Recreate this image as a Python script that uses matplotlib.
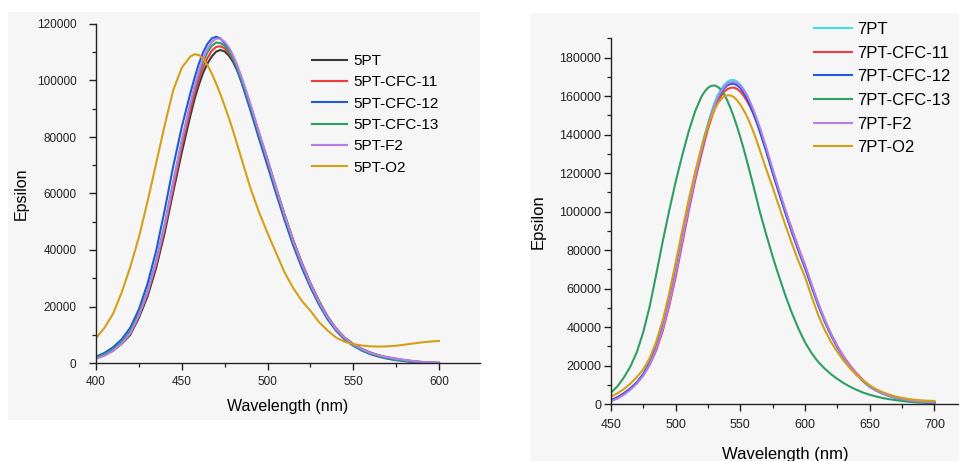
import numpy as np
import matplotlib as mpl
mpl.use("Agg")
import matplotlib.pyplot as plt
import matplotlib.ticker as ticker
from matplotlib.patches import Rectangle

plt.rcParams['font.family'] = ['Liberation Sans', 'DejaVu Sans']

# ---- left panel: 5PT series (5 nm steps, 2.5 nm around the peak)
wl5 = [400, 405, 410, 415, 420, 425, 430, 435, 440, 445, 450,
       455, 457.5, 460, 462.5, 465, 467.5, 470, 472.5, 475, 477.5, 480, 482.5, 485, 487.5, 490,
       495, 500, 505, 510, 515, 520, 525, 530, 535, 540, 545, 550,
       555, 560, 565, 570, 575, 580, 585, 590, 595, 600]
pt5 = [1700, 2800, 4400, 6800, 10000, 16000, 23500, 33500, 46000, 60500, 74500,
       87500, 93500, 98500, 102800, 106000, 108500, 110200, 110800, 110300, 108800, 106500, 103300, 99500, 95500, 91000,
       81500, 72000, 62000, 52500, 43500, 35500, 28300, 22000, 16500, 12200, 9000, 6700,
       5000, 3700, 2700, 2000, 1500, 1000, 650, 350, 150, 50]
pt5_cfc11 = [1800, 2900, 4600, 7100, 10600, 16800, 24500, 34800, 47500, 62000, 76500,
             89500, 95300, 100500, 104800, 108000, 110500, 111900, 112100, 111400, 109700, 107300, 104000, 100000, 95700, 91000,
             81300, 71600, 61600, 52000, 43000, 35000, 27900, 21600, 16200, 12000, 8800, 6500,
             4800, 3500, 2500, 1800, 1300, 850, 500, 250, 100, 0]
pt5_cfc12 = [2200, 3600, 5600, 8400, 12500, 19000, 28000, 39500, 54000, 69500, 83500,
             95500, 101000, 106000, 110000, 113000, 114900, 115500, 114900, 113200, 110700, 107500, 103500, 99000, 94300, 89500,
             79500, 69800, 60000, 50500, 41600, 33700, 26800, 20700, 15500, 11400, 8300, 6100,
             4400, 3100, 2200, 1500, 1000, 650, 350, 150, 50, 0]
pt5_cfc13 = [1900, 3100, 4900, 7500, 11200, 17500, 25500, 36000, 49000, 64000, 78500,
             91500, 97300, 102500, 106800, 110000, 112300, 113400, 113300, 112300, 110400, 107700, 104200, 100000, 95600, 91000,
             81000, 71300, 61300, 51700, 42700, 34700, 27600, 21300, 16000, 11800, 8600, 6300,
             4600, 3300, 2400, 1700, 1200, 800, 450, 200, 80, 0]
pt5_f2 = [1500, 2600, 4300, 6900, 10500, 16800, 25000, 35500, 48500, 63500, 78500,
          92000, 98000, 103500, 107800, 111200, 113600, 114800, 114800, 113700, 111700, 108800, 105200, 101000, 96500, 91800,
          81800, 72000, 62000, 52300, 43300, 35200, 28000, 21700, 16300, 12000, 8900, 6600,
          4900, 3600, 2700, 2000, 1500, 1100, 700, 400, 200, 100]
pt5_o2 = [8800, 12500, 17500, 25000, 34000, 44500, 57000, 70500, 84000, 96500, 104500,
          108500, 109300, 109000, 107700, 105500, 102500, 99000, 95200, 91000, 86700, 82000, 77000, 72000, 67000, 62000,
          53500, 46000, 39000, 32000, 26500, 22000, 18500, 14500, 11500, 9000, 7500, 6700,
          6200, 5900, 5800, 5900, 6100, 6500, 6900, 7300, 7600, 7800]

# ---- right panel: 7PT series (5 nm steps, 2.5 nm around the peak)
wl7 = [450, 455, 460, 465, 470, 475, 480, 485, 490, 495, 500, 505, 510, 515,
       520, 522.5, 525, 527.5, 530, 532.5, 535, 537.5, 540, 542.5, 545, 547.5, 550,
       552.5, 555, 557.5, 560, 562.5, 565,
       570, 575, 580, 585, 590, 595, 600, 605, 610, 615, 620, 625, 630, 635, 640, 645,
       650, 655, 660, 665, 670, 675, 680, 685, 690, 695, 700]
pt7 = [1900, 3300, 5400, 8000, 11200, 15500, 21500, 29500, 40000, 53500, 69000, 86000, 103000, 119000,
       133500, 140000, 146000, 151500, 156500, 160500, 163500, 165800, 167500, 168300, 168400, 167500, 166000,
       163500, 160500, 156800, 152500, 148000, 143000,
       132500, 121000, 110000, 99500, 89500, 80000, 71000, 61500, 52000, 43500, 36000, 29500, 24000, 19300, 15300, 11800,
       9000, 7000, 5400, 4200, 3200, 2500, 1900, 1500, 1200, 1000, 800]
pt7_cfc11 = [2000, 3500, 5500, 8000, 11000, 15000, 20500, 28000, 38000, 51000, 66000, 83000, 100000, 116000,
             130000, 136800, 143000, 148300, 153000, 157000, 160000, 162200, 163600, 164300, 164400, 163700, 162300,
             160200, 157500, 154500, 151000, 147000, 142500,
             132000, 120500, 110000, 100000, 90500, 81000, 72000, 62000, 52500, 44000, 36500, 30000, 24500, 19800, 15800, 12300,
             9500, 7300, 5700, 4500, 3500, 2800, 2200, 1800, 1500, 1300, 1100]
pt7_cfc12 = [2000, 3400, 5500, 8100, 11300, 15600, 21600, 29600, 40000, 53300, 68500, 85300, 102000, 117800,
             132000, 138500, 144500, 150000, 154800, 158700, 161800, 164000, 165600, 166300, 166400, 165600, 164200,
             161800, 158800, 155100, 151000, 146500, 141600,
             131200, 120000, 109200, 98800, 88800, 79400, 70500, 61000, 51600, 43200, 35800, 29300, 23800, 19200, 15200, 11700,
             9000, 7000, 5400, 4200, 3200, 2500, 1900, 1500, 1200, 1000, 800]
pt7_cfc13 = [5900, 9200, 13800, 19500, 27000, 37500, 51000, 67500, 84500, 100500, 115500, 129000, 141500, 152000,
             159800, 162400, 164300, 165300, 165500, 164800, 163300, 160800, 157500, 153500, 149000, 144000, 138500,
             132700, 126500, 120000, 113500, 106800, 100000,
             88000, 76500, 66000, 56000, 47000, 39000, 32000, 26500, 22000, 18500, 15500, 13000, 10800, 8900, 7300, 5900,
             4800, 3900, 3100, 2500, 2000, 1600, 1200, 900, 700, 500, 400]
pt7_f2 = [1500, 2800, 4800, 7400, 10600, 14800, 20600, 28600, 39000, 52300, 67500, 84500, 101500, 117500,
          132000, 138600, 144800, 150300, 155200, 159200, 162500, 164800, 166400, 167200, 167300, 166700, 165400,
          163200, 160500, 157000, 153000, 148500, 143800,
          133300, 122000, 111000, 100500, 90300, 80800, 71800, 62200, 52700, 44000, 36400, 29800, 24200, 19500, 15500, 12000,
          9200, 7100, 5500, 4300, 3300, 2600, 2000, 1600, 1300, 1100, 900]
pt7_o2 = [3800, 5600, 7800, 10600, 14000, 18000, 24000, 32500, 43500, 57500, 73500, 90000, 106000, 120500,
          133500, 139300, 144500, 149100, 153000, 156100, 158300, 159800, 160400, 160300, 159500, 157800, 155500,
          152700, 149500, 145700, 141500, 137000, 132000,
          122000, 112500, 102500, 92500, 83000, 74000, 66000, 56000, 46500, 38800, 32300, 27000, 22300, 18300, 14900, 12000,
          9600, 7700, 6100, 4900, 3900, 3200, 2600, 2200, 1900, 1700, 1600]

labels5 = ['5PT', '5PT-CFC-11', '5PT-CFC-12', '5PT-CFC-13', '5PT-F2', '5PT-O2']
labels7 = ['7PT', '7PT-CFC-11', '7PT-CFC-12', '7PT-CFC-13', '7PT-F2', '7PT-O2']
colors5 = ['#3a3a3a', '#ee3b3b', '#2458d8', '#2f9e62', '#b77ee8', '#d4a017']
colors7 = ['#3fe0e6', '#ee3b3b', '#2458d8', '#2f9e62', '#b77ee8', '#d4a017']

fig = plt.figure(figsize=(9.59, 4.61), dpi=100)
fig.patch.set_facecolor('white')

# slightly grey scanned background panels, on an axes kept behind everything
bg = fig.add_axes([0, 0, 1, 1], zorder=-5)
bg.set_xlim(0, 959)
bg.set_ylim(461, 0)
bg.axis('off')
bg.add_patch(Rectangle((8, 12), 472, 408, color='#f6f6f6', lw=0))
bg.add_patch(Rectangle((530, 13), 429, 448, color='#f6f6f6', lw=0))


def style_axes(ax, fs, ypad, xpad):
    ax.set_facecolor('none')
    for s in ['top', 'right']:
        ax.spines[s].set_visible(False)
    for s in ['left', 'bottom']:
        ax.spines[s].set_color('#222222')
        ax.spines[s].set_linewidth(1.0)
    ax.tick_params(which='major', direction='out', length=5, width=1.0,
                   colors='#222222', labelsize=fs)
    ax.tick_params(which='minor', direction='out', length=3, width=0.9,
                   colors='#222222')
    ax.tick_params(axis='y', which='major', pad=ypad)
    ax.tick_params(axis='x', which='major', pad=xpad)
    ax.xaxis.set_minor_locator(ticker.MultipleLocator(25))
    ax.yaxis.set_minor_locator(ticker.MultipleLocator(10000))
    ax.xaxis.set_major_locator(ticker.MultipleLocator(50))
    ax.yaxis.set_major_locator(ticker.MultipleLocator(20000))


# left
ax1 = fig.add_axes([96 / 959, 98 / 461, 384 / 959, 339 / 461])
style_axes(ax1, 8.5, 9, 4)
for ys, lab, c in zip([pt5, pt5_cfc11, pt5_cfc12, pt5_cfc13, pt5_f2, pt5_o2], labels5, colors5):
    ax1.plot(wl5, ys, color=c, lw=1.5, label=lab)
ax1.set_xlim(400, 623.9)
ax1.set_ylim(0, 120000)
ax1.set_xlabel('Wavelength (nm)', fontsize=11.5, labelpad=8)
ax1.set_ylabel('Epsilon', fontsize=11.5, labelpad=6)
ax1.legend(loc='upper left', bbox_to_anchor=(312 / 959, 1 - 54 / 461),
           bbox_transform=fig.transFigure, frameon=False, fontsize=11,
           borderaxespad=0, borderpad=0, handlelength=2.3, handletextpad=0.4,
           labelspacing=0.48)

# right
ax2 = fig.add_axes([611 / 959, 57 / 461, 348 / 959, 365.7 / 461])
style_axes(ax2, 9, 2, 6)
for ys, lab, c in zip([pt7, pt7_cfc11, pt7_cfc12, pt7_cfc13, pt7_f2, pt7_o2], labels7, colors7):
    ax2.plot(wl7, ys, color=c, lw=1.5, label=lab)
ax2.set_xlim(450, 719)
ax2.set_ylim(0, 190000)
ax2.set_xlabel('Wavelength (nm)', fontsize=12, labelpad=11)
ax2.set_ylabel('Epsilon', fontsize=12, labelpad=10)
ax2.legend(loc='upper left', bbox_to_anchor=(814 / 959, 1 - 22 / 461),
           bbox_transform=fig.transFigure, frameon=False, fontsize=12,
           borderaxespad=0, borderpad=0, handlelength=2.3, handletextpad=0.3,
           labelspacing=0.52)

fig.savefig('out.png', dpi=100)
